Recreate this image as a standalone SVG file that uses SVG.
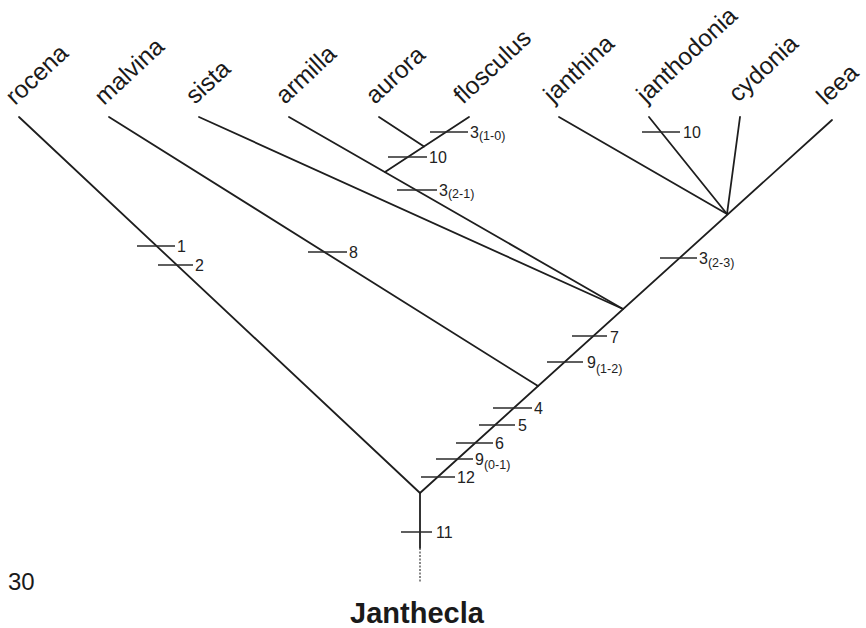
<svg xmlns="http://www.w3.org/2000/svg" width="866" height="628" viewBox="0 0 866 628">
<style>
.bg{fill:#ffffff}
.br{stroke:#1e1e1e;stroke-width:1.8;fill:none;stroke-linecap:round}
.tk{stroke:#2a2a2a;stroke-width:1.5;fill:none}
.tax{font-family:"Liberation Sans",Arial,sans-serif;font-size:24.5px;fill:#1a1a1a}
.lb{font-family:"Liberation Sans",Arial,sans-serif;font-size:16px;fill:#222}
.sub{font-size:12.5px}
.title{font-family:"Liberation Sans",Arial,sans-serif;font-size:29px;font-weight:bold;fill:#1a1a1a}
.num{font-family:"Liberation Sans",Arial,sans-serif;font-size:24px;fill:#1a1a1a}
</style>
<rect class="bg" x="0" y="0" width="866" height="628"/>
<g id="connectors">
  <line class="br" x1="19" y1="117" x2="420" y2="493"/>
  <line class="br" x1="109" y1="117" x2="538" y2="386"/>
  <line class="br" x1="199" y1="117" x2="623" y2="309"/>
  <line class="br" x1="289" y1="117" x2="623" y2="309"/>
  <line class="br" x1="385" y1="172" x2="469" y2="117"/>
  <line class="br" x1="379" y1="117" x2="424" y2="146.5"/>
  <line class="br" x1="559" y1="117" x2="727" y2="214"/>
  <line class="br" x1="649" y1="117" x2="727" y2="214"/>
  <line class="br" x1="740" y1="117" x2="727" y2="214"/>
  <line class="br" x1="420" y1="493" x2="832" y2="120"/>
  <line class="br" x1="420" y1="493" x2="420" y2="548"/>
  <line x1="420" y1="548" x2="420" y2="582" stroke="#555" stroke-width="1.4" stroke-dasharray="2 1.5"/>
</g>
<g id="taxa">
  <g id="rocena"><text class="tax" transform="translate(15,106) rotate(-43)">rocena</text></g>
  <g id="malvina"><text class="tax" transform="translate(104,106) rotate(-43)">malvina</text></g>
  <g id="sista"><text class="tax" transform="translate(195,105) rotate(-43)">sista</text></g>
  <g id="armilla"><text class="tax" transform="translate(285,105) rotate(-43)">armilla</text></g>
  <g id="aurora"><text class="tax" transform="translate(375,105) rotate(-43)">aurora</text></g>
  <g id="flosculus"><text class="tax" transform="translate(463,105) rotate(-43)">flosculus</text></g>
  <g id="janthina"><text class="tax" transform="translate(553,104) rotate(-43)">janthina</text></g>
  <g id="janthodonia"><text class="tax" transform="translate(646,104) rotate(-43)">janthodonia</text></g>
  <g id="cydonia"><text class="tax" transform="translate(738,103) rotate(-43)">cydonia</text></g>
  <g id="leea"><text class="tax" transform="translate(826,106) rotate(-43)">leea</text></g>
</g>
<g id="characters">
  <g id="c1"><line class="tk" x1="137" y1="246" x2="175" y2="246"/><text class="lb" x="177" y="252">1</text></g>
  <g id="c2"><line class="tk" x1="158" y1="265" x2="193" y2="265"/><text class="lb" x="195" y="271">2</text></g>
  <g id="c8"><line class="tk" x1="308" y1="252" x2="347" y2="252"/><text class="lb" x="349" y="258">8</text></g>
  <g id="c3a"><line class="tk" x1="430" y1="132" x2="468" y2="132"/><text class="lb" x="470" y="138">3<tspan class="sub" dy="2">(1-0)</tspan></text></g>
  <g id="c10a"><line class="tk" x1="388" y1="157" x2="427" y2="157"/><text class="lb" x="429" y="163">10</text></g>
  <g id="c3b"><line class="tk" x1="397" y1="190" x2="437" y2="190"/><text class="lb" x="439" y="196">3<tspan class="sub" dy="2">(2-1)</tspan></text></g>
  <g id="c10b"><line class="tk" x1="642" y1="132" x2="680" y2="132"/><text class="lb" x="683" y="138">10</text></g>
  <g id="c3c"><line class="tk" x1="660" y1="258" x2="697" y2="258"/><text class="lb" x="699" y="264">3<tspan class="sub" dy="3">(2-3)</tspan></text></g>
  <g id="c7"><line class="tk" x1="572" y1="336" x2="607" y2="336"/><text class="lb" x="610" y="343">7</text></g>
  <g id="c9b"><line class="tk" x1="547" y1="362" x2="583" y2="362"/><text class="lb" x="587" y="368">9<tspan class="sub" dy="5">(1-2)</tspan></text></g>
  <g id="c4"><line class="tk" x1="493" y1="408" x2="532" y2="408"/><text class="lb" x="534" y="414">4</text></g>
  <g id="c5"><line class="tk" x1="479" y1="425" x2="515" y2="425"/><text class="lb" x="518" y="431">5</text></g>
  <g id="c6"><line class="tk" x1="456" y1="443" x2="493" y2="443"/><text class="lb" x="495" y="449">6</text></g>
  <g id="c9a"><line class="tk" x1="436" y1="459" x2="473" y2="459"/><text class="lb" x="475" y="465">9<tspan class="sub" dy="4">(0-1)</tspan></text></g>
  <g id="c12"><line class="tk" x1="421" y1="477" x2="455" y2="477"/><text class="lb" x="457" y="483">12</text></g>
  <g id="c11"><line class="tk" x1="401" y1="532" x2="432" y2="532"/><text class="lb" x="436" y="538">11</text></g>
</g>
<g id="root"><text class="title" x="417" y="623" text-anchor="middle">Janthecla</text></g>
<g id="page"><text class="num" x="8" y="590">30</text></g>
</svg>
